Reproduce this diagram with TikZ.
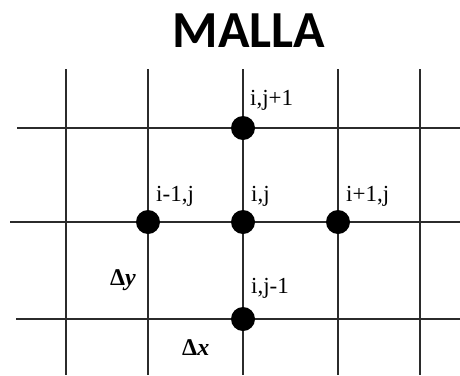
\documentclass[tikz,border=0pt]{standalone}
\usepackage{fontspec}
\setmainfont{Liberation Serif}
\newfontfamily\titlefont{Carlito}
\usetikzlibrary{positioning}
\definecolor{gridline}{HTML}{2B2B2B}

\begin{document}
\begin{tikzpicture}[
    x=1pt, y=-1pt,
    gridrule/.style={draw=gridline, line width=1.7pt},
    dot/.style={circle, fill=black, inner sep=0pt, minimum size=24pt},
    tag/.style={anchor=base west, inner sep=0pt, font=\fontsize{23}{23}\selectfont},
    steptag/.style={tag, font=\bfseries\fontsize{24}{24}\selectfont},
  ]
\useasboundingbox (0,0) rectangle (460,375);

\node[anchor=base, inner sep=0pt, font=\titlefont\bfseries\fontsize{52}{52}\selectfont] (title) at (249,47) {MALLA};

% mesh lines
\foreach \gx in {66,148,243,338,420}
  \draw[gridrule] (\gx,69) -- (\gx,375);
\draw[gridrule] (17,128) -- (460,128);
\draw[gridrule] (10,222) -- (460,222);
\draw[gridrule] (16,319) -- (460,319);

% nodes of the stencil
\node[dot] (n) at (243,128) {};
\node[dot] (w) at (148,222) {};
\node[dot] (c) at (243,222) {};
\node[dot] (e) at (338,222) {};
\node[dot] (s) at (243,319) {};

\node[tag] (nlab) at (250,105) {i,j+1};
\node[tag] (wlab) at (156,201) {i-1,j};
\node[tag] (clab) at (251,201) {i,j};
\node[tag] (elab) at (346,201) {i+1,j};
\node[tag] (slab) at (251,293) {i,j-1};
\node[steptag] (dy) at (110,285) {Δ\textit{y}};
\node[steptag] (dx) at (182,355) {Δ\textit{x}};

\end{tikzpicture}
\end{document}
